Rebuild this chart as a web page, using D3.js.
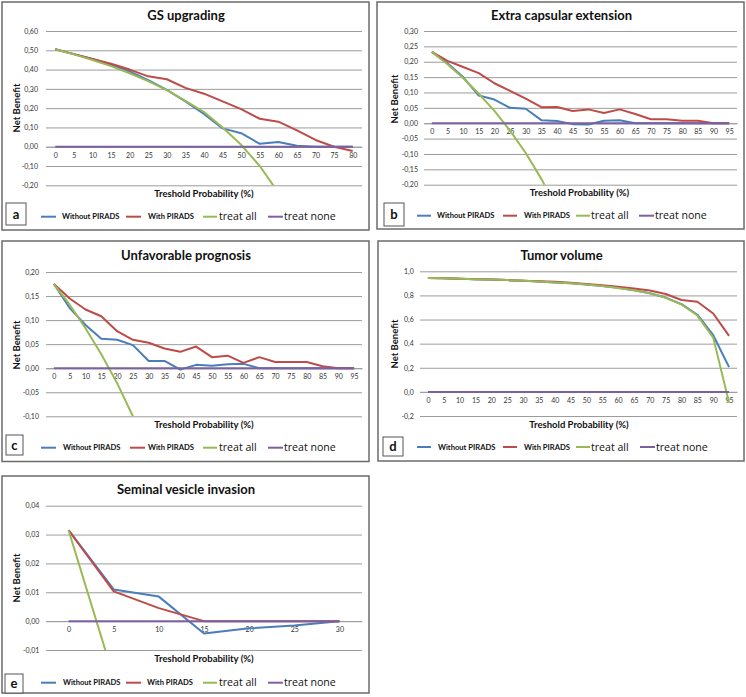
<!DOCTYPE html>
<html><head><meta charset="utf-8">
<script src="https://cdn.jsdelivr.net/npm/d3@7"></script>
<style>body{margin:0;background:#fff} svg{display:block}</style>
</head><body>
<svg id="chart" width="746" height="697"></svg>
<script>
// ---------- DATA ----------
const catsA = [0,5,10,15,20,25,30,35,40,45,50,55,60,65,70,75,80];
const withoutA = [0.505,0.480,0.455,0.425,0.390,0.345,0.295,0.235,0.170,0.095,0.070,0.015,0.025,0.005,0,0,0];
const withA = [0.505,0.480,0.455,0.430,0.400,0.365,0.350,0.305,0.275,0.235,0.195,0.145,0.130,0.085,0.035,0.000,-0.022];
const treatAllA = [0.505,0.479,0.450,0.418,0.381,0.340,0.293,0.238,0.180,0.100,0.010,-0.100,-0.238,null,null,null,null];
const treatNoneA = [0,0,0,0,0,0,0,0,0,0,0,0,0,0,0,0,0];
const yTicksA = [-0.2,-0.1,0,0.1,0.2,0.3,0.4,0.5,0.6];

const catsB = [0,5,10,15,20,25,30,35,40,45,50,55,60,65,70,75,80,85,90,95];
const withoutB = [0.232,0.195,0.150,0.090,0.077,0.050,0.047,0.010,0.007,-0.003,-0.004,0.008,0.010,0,0,0,0,0,0,0];
const withB = [0.232,0.203,0.183,0.163,0.130,0.105,0.080,0.052,0.053,0.040,0.045,0.033,0.045,0.030,0.013,0.013,0.008,0.008,0,0];
const treatAllB = [0.232,0.192,0.147,0.096,0.040,-0.024,-0.097,-0.181,-0.280,null,null,null,null,null,null,null,null,null,null,null];
const treatNoneB = [0,0,0,0,0,0,0,0,0,0,0,0,0,0,0,0,0,0,0,0];
const yTicksB = [-0.2,-0.15,-0.1,-0.05,0,0.05,0.1,0.15,0.2,0.25,0.3];

const catsC = [0,5,10,15,20,25,30,35,40,45,50,55,60,65,70,75,80,85,90,95];
const withoutC = [0.175,0.125,0.090,0.061,0.059,0.048,0.015,0.015,-0.003,0.007,0.005,0.008,0.009,0,0,0,0,0,0,0];
const withC = [0.175,0.145,0.122,0.108,0.077,0.059,0.053,0.041,0.034,0.045,0.023,0.026,0.011,0.023,0.013,0.013,0.013,0.004,0,0];
const treatAllC = [0.175,0.132,0.083,0.029,-0.031,-0.100,null,null,null,null,null,null,null,null,null,null,null,null,null,null];
const treatNoneC = [0,0,0,0,0,0,0,0,0,0,0,0,0,0,0,0,0,0,0,0];
const yTicksC = [-0.1,-0.05,0,0.05,0.1,0.15,0.2];

const catsD = [0,5,10,15,20,25,30,35,40,45,50,55,60,65,70,75,80,85,90,95];
const withoutD = [0.945,0.942,0.939,0.935,0.931,0.927,0.921,0.915,0.908,0.900,0.890,0.878,0.863,0.843,0.818,0.782,0.728,0.640,0.470,0.205];
const withD = [0.945,0.942,0.939,0.935,0.931,0.927,0.922,0.918,0.913,0.906,0.895,0.884,0.872,0.857,0.840,0.812,0.762,0.748,0.650,0.465];
const treatAllD = [0.945,0.942,0.939,0.935,0.931,0.927,0.921,0.915,0.908,0.900,0.890,0.878,0.862,0.843,0.817,0.780,0.725,0.633,0.450,-0.090];
const treatNoneD = [0,0,0,0,0,0,0,0,0,0,0,0,0,0,0,0,0,0,0,0];
const yTicksD = [-0.2,0,0.2,0.4,0.6,0.8,1.0];

const catsE = [0,5,10,15,20,25,30];
const withoutE = [0.0315,0.0110,0.0085,-0.0043,-0.0025,-0.0015,0];
const withE = [0.0315,0.0103,0.0045,0,0,0,0];
const treatAllE = [0.0315,-0.0195,null,null,null,null,null];
const treatNoneE = [0,0,0,0,0,0,0];
const yTicksE = [-0.01,0,0.01,0.02,0.03,0.04];

const seriesNames = ["Without PIRADS","With PIRADS","treat all","treat none"];
const seriesColors = ["#4a7ebb","#be4b48","#98b954","#7d60a0"];

// ---------- LAYOUT ----------
const panels = [
  {letter:"a", title:"GS upgrading", cats:catsA, series:[withoutA,withA,treatAllA,treatNoneA], yTicks:yTicksA, dec:2,
   box:[2,2,369,230], plot:{l:46,r:362,t:31,b:185.3}, ylabRight:38, ylab:[17,108], titlePos:[186,15.5], xtitle:[204,194],
   legY:216.7, leg:[[41,56,62],[126,141,148],[203,217,219],[268,283,284]], lbox:[6,203,20,22]},
  {letter:"b", title:"Extra capsular extension", cats:catsB, series:[withoutB,withB,treatAllB,treatNoneB], yTicks:yTicksB, dec:2,
   box:[377,2,744,229], plot:{l:424,r:737,t:31,b:184.7}, ylabRight:418, ylab:[395,99], titlePos:[561.5,15.5], xtitle:[579.5,193],
   legY:215.7, leg:[[417,431,437],[503,517,524],[576,590,591],[639,654,655]], lbox:[384,203,20,23]},
  {letter:"c", title:"Unfavorable prognosis", cats:catsC, series:[withoutC,withC,treatAllC,treatNoneC], yTicks:yTicksC, dec:2,
   box:[2,241,369,461.5], plot:{l:46,r:362,t:272,b:416.3}, ylabRight:39, ylab:[17,345], titlePos:[186,255], xtitle:[204,424.3],
   legY:447.7, leg:[[41,56,63],[130,145,148],[203,217,219],[268,283,284]], lbox:[6,435,17,20]},
  {letter:"d", title:"Tumor volume", cats:catsD, series:[withoutD,withD,treatAllD,treatNoneD], yTicks:yTicksD, dec:1,
   box:[378,241,744,461], plot:{l:420,r:737,t:271.3,b:416}, ylabRight:413.7, ylab:[395,344], titlePos:[561.5,255], xtitle:[579,424.3],
   legY:447, leg:[[417,431,438],[503,517,524],[576,590,591],[640,655,656]], lbox:[383,437,20,19]},
  {letter:"e", title:"Seminal vesicle invasion", cats:catsE, series:[withoutE,withE,treatAllE,treatNoneE], yTicks:yTicksE, dec:2,
   box:[2,476,369,693], plot:{l:46,r:362,t:505.7,b:650}, ylabRight:39.3, ylab:[17,578], titlePos:[186,489.5], xtitle:[204,658.7],
   legY:682.7, leg:[[41,56,63],[126,141,147],[203,217,219],[268,283,284]], lbox:[5,674,18,19]}
];

const svg = d3.select("#chart");
const FONT = "Lato, 'Open Sans', sans-serif";
const locale = d3.formatLocale({decimal:",", thousands:".", grouping:[3], currency:["",""], minus:"-"});

panels.forEach((p,pi) => {
  const g = svg.append("g");
  const [bx0,by0,bx1,by1] = p.box;
  g.append("rect").attr("x",bx0).attr("y",by0).attr("width",bx1-bx0).attr("height",by1-by0)
    .attr("fill","#fff").attr("stroke","#6b6b6b").attr("stroke-width",1.5);

  const x = d3.scalePoint().domain(p.cats).range([p.plot.l,p.plot.r]).padding(0.5);
  const y = d3.scaleLinear().domain(d3.extent(p.yTicks)).range([p.plot.b,p.plot.t]);
  const fmt = locale.format("." + p.dec + "f");

  // y gridlines + labels
  const ya = g.append("g").attr("transform",`translate(${p.plot.l},0)`)
    .call(d3.axisLeft(y).tickValues(p.yTicks).tickSize(-(p.plot.r-p.plot.l)).tickPadding(p.plot.l-p.ylabRight).tickFormat(fmt));
  ya.select(".domain").remove();
  ya.selectAll(".tick line").attr("stroke","#9c9c9c").attr("stroke-width",1);
  ya.selectAll(".tick text").attr("font-family",FONT).attr("font-size",7).attr("fill","#333");

  // x axis labels at zero
  const xa = g.append("g").attr("transform",`translate(0,${y(0)})`)
    .call(d3.axisBottom(x).tickSize(0).tickPadding(6));
  xa.select(".domain").attr("stroke","#9c9c9c");
  xa.selectAll(".tick text").attr("font-family",FONT).attr("font-size",7).attr("fill","#333");

  // clip
  const cid = "clip" + pi;
  svg.append("defs").append("clipPath").attr("id",cid).append("rect")
    .attr("x",p.plot.l-2).attr("y",p.plot.t-3).attr("width",p.plot.r-p.plot.l+4).attr("height",p.plot.b-p.plot.t+3);

  const line = d3.line().defined(d => d.v !== null).x(d => x(d.c)).y(d => y(d.v));
  const lg = g.append("g").attr("clip-path",`url(#${cid})`);
  p.series.forEach((s,si) => {
    const pts = p.cats.map((c,i) => ({c, v:s[i]}));
    lg.append("path").datum(pts).attr("d",line).attr("fill","none")
      .attr("stroke",seriesColors[si]).attr("stroke-width",2).attr("stroke-linejoin","round");
  });

  // titles
  g.append("text").attr("x",p.titlePos[0]).attr("y",p.titlePos[1]).attr("dy","0.35em")
    .attr("text-anchor","middle").attr("font-family",FONT).attr("font-weight","bold").attr("font-size",13)
    .attr("fill","#111").text(p.title);
  g.append("text").attr("x",p.xtitle[0]).attr("y",p.xtitle[1]).attr("dy","0.35em")
    .attr("text-anchor","middle").attr("font-family",FONT).attr("font-weight","bold").attr("font-size",9.5)
    .attr("fill","#111").text("Treshold Probability (%)");
  g.append("text").attr("transform",`translate(${p.ylab[0]},${p.ylab[1]}) rotate(-90)`).attr("dy","0.35em")
    .attr("text-anchor","middle").attr("font-family",FONT).attr("font-weight","bold").attr("font-size",9.5)
    .attr("fill","#111").text("Net Benefit");

  // legend
  p.leg.forEach((L,si) => {
    g.append("line").attr("x1",L[0]).attr("x2",L[1]).attr("y1",p.legY).attr("y2",p.legY)
      .attr("stroke",seriesColors[si]).attr("stroke-width",2);
    const t = g.append("text").attr("x",L[2]).attr("y",p.legY).attr("dy","0.35em").attr("fill","#111").text(seriesNames[si]);
    if (si < 2) t.attr("font-family",FONT).attr("font-weight","bold").attr("font-size",7.6);
    else t.attr("font-family","'Open Sans', sans-serif").attr("font-size",10.6);
  });

  // letter box
  const [lx,ly,lw,lh] = p.lbox;
  g.append("rect").attr("x",lx).attr("y",ly).attr("width",lw).attr("height",lh)
    .attr("fill","#fff").attr("stroke","#555").attr("stroke-width",1);
  g.append("text").attr("x",lx+lw/2).attr("y",ly+lh/2).attr("dy","0.35em").attr("text-anchor","middle")
    .attr("font-family",FONT).attr("font-weight","bold").attr("font-size",13).attr("fill","#111").text(p.letter);
});
</script>
</body></html>
